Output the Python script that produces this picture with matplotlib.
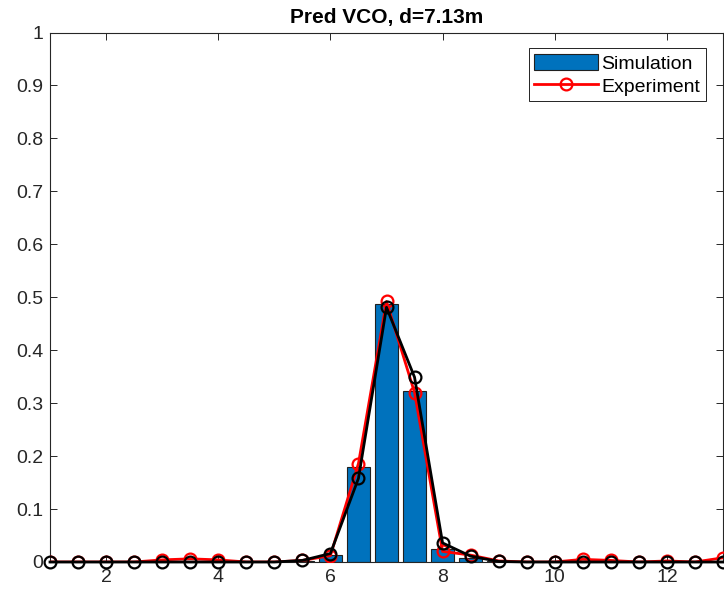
import numpy as np
import matplotlib
matplotlib.use("Agg")
import matplotlib.pyplot as plt

plt.rcParams['font.family'] = ['Liberation Sans', 'DejaVu Sans']

x = np.arange(1, 13.01, 0.5)
simulation = [0, 0, 0, 0, 0, 0, 0, 0, 0, 0.002, 0.014, 0.180, 0.487, 0.323,
              0.024, 0.008, 0.001, 0, 0, 0, 0, 0, 0, 0, 0]
experiment = [0, 0, 0, 0, 0.004, 0.006, 0.004, 0, 0, 0.003, 0.012, 0.186, 0.492, 0.320,
              0.020, 0.013, 0.002, 0, 0, 0.005, 0.003, 0, 0.002, 0, 0.008]
model = [0, 0, 0, 0, 0, 0, 0, 0, 0, 0.003, 0.016, 0.158, 0.481, 0.349,
         0.036, 0.011, 0.001, 0, 0, 0, 0, 0, 0, 0, 0]
xticks = [2, 4, 6, 8, 10, 12]
yticks = [0, 0.1, 0.2, 0.3, 0.4, 0.5, 0.6, 0.7, 0.8, 0.9, 1]
ytick_labels = ['0', '0.1', '0.2', '0.3', '0.4', '0.5', '0.6', '0.7', '0.8', '0.9', '1']

fig = plt.figure(figsize=(7.24, 5.96), dpi=100)
ax = fig.add_axes([50/724, 34/596, 673/724, 529.5/596])

dark = '#262626'
bars = ax.bar(x, simulation, width=0.4, color='#0072BD', edgecolor='#202020', linewidth=0.8,
              label='Simulation', zorder=2)
line_exp, = ax.plot(x, experiment, color='red', linewidth=2, marker='o', markersize=8.5,
                    markerfacecolor='none', markeredgewidth=1.6, label='Experiment', zorder=3)
ax.plot(x, model, color='black', linewidth=2, marker='o', markersize=8.5,
        markerfacecolor='none', markeredgewidth=1.6, zorder=4, clip_on=False)

ax.set_xlim(1, 13)
ax.set_ylim(0, 1)
ax.set_xticks(xticks)
ax.set_yticks(yticks)
ax.set_yticklabels(ytick_labels)
ax.tick_params(direction='in', top=True, right=True, length=5, width=0.7,
               colors=dark, labelsize=14, labelcolor=dark)
ax.tick_params(axis='x', pad=5)
ax.tick_params(axis='y', pad=5)
for s in ax.spines.values():
    s.set_color(dark)
    s.set_linewidth(0.8)
ax.set_title('Pred VCO, d=7.13m', fontsize=15, fontweight='bold', color='black', pad=7)

leg = ax.legend([bars, line_exp], ['Simulation', 'Experiment'],
                loc='upper right', bbox_to_anchor=(0.975, 0.97), fancybox=False,
                edgecolor='black', framealpha=1, fontsize=14, handlelength=3.25,
                handleheight=0.9, borderpad=0.3, labelspacing=0.2, handletextpad=0.2,
                borderaxespad=0)
leg.get_frame().set_linewidth(0.6)

fig.savefig('out.png', dpi=100)
